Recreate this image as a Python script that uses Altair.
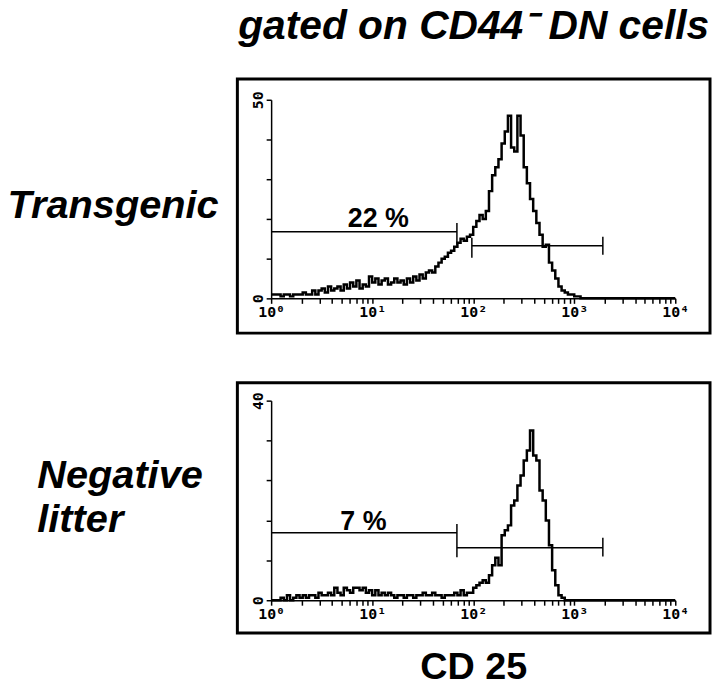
import altair as alt
import pandas as pd

# ---- data (128 log-spaced channels over 10^0..10^4) ----
top_counts = [1, 1, 1, 0.5, 1, 1, 0.5, 1, 1, 1,
              1.5, 1, 1, 2, 1, 2, 2.5, 1.5, 3, 2,
              2.5, 3, 2, 3.5, 2.5, 4, 3, 4.5, 2.5, 3.5,
              3, 5.5, 4, 5, 3.5, 4.5, 5, 3.5, 4, 5,
              4, 4.5, 3.5, 5, 4, 5.5, 4.5, 6, 5, 6.5,
              7, 6.5, 8, 9, 10, 10.5, 11.5, 12, 13, 14,
              15, 14.5, 15.5, 16, 18, 19.5, 21, 20, 22, 27,
              31, 33, 35, 39, 42, 46, 38, 37, 46, 41,
              33, 29, 25, 22, 19, 16, 13, 13.5, 9, 7,
              5, 3, 2, 1.5, 1, 1, 0.5, 0.5] + [0] * 30

bot_counts = [0, 0, 0, 0.5, 0, 1, 0, 0.5, 1, 0.5,
              1, 0.5, 1, 1, 0.5, 1.5, 1, 1, 1.5, 1,
              2.5, 1.5, 1, 2.5, 2, 1.5, 2.5, 2.5, 2, 2.5,
              1.5, 2, 1, 2, 1, 1.5, 1, 1.5, 1, 0.5,
              1, 1, 0.5, 1, 1, 0.5, 1, 1, 1.5, 1,
              1, 1.5, 1, 1, 0.5, 1, 1, 1, 1.5, 1,
              2, 1, 1.5, 1.5, 2.5, 3, 3.5, 4, 3.5, 5,
              7, 8.5, 7, 13, 14, 15, 19, 20, 23, 25,
              28, 30, 34, 29, 28, 22, 20, 16, 11, 6,
              3, 1, 0.5] + [0] * 35

# gates (marker bars)
top_gate_x1 = [1, 97]
top_gate_x2 = [69, 1920]
top_gate_y = [16.75, 13.25]
top_tick_x = [69, 97, 1920]
top_tick_y1 = [13.5, 10.25, 11]
top_tick_y2 = [19, 15.25, 15.5]

bot_gate_x1 = [1, 69]
bot_gate_x2 = [69, 1920]
bot_gate_y = [13.5, 10.5]
bot_tick_x = [69, 1920]
bot_tick_y1 = [8.6, 8.75]
bot_tick_y2 = [15.3, 12.5]

top_label = {"x": [11.5], "c": [17.9], "t": ["22 %"]}
bot_label = {"x": [8.2], "c": [14.1], "t": ["7 %"]}

x_tick_values = [m * 10 ** d for d in range(4) for m in range(1, 10)] + [10000]
decade_sup = ("datum.value == 1 ? '10⁰' : datum.value == 10 ? '10¹' : datum.value == 100 ? '10²'"
              " : datum.value == 1000 ? '10³' : datum.value == 10000 ? '10⁴' : ''")

BOLD = "Liberation Sans"
MONO = "DejaVu Sans Mono"


def panel(counts, ymax, ystep, yrange, height, gx1, gx2, gy, tx, ty1, ty2, lab,
          row_title, title_x, title_y, x_title):
    n = len(counts)
    xs = [10 ** (i / 32) for i in range(n)] + [10000]
    hist = pd.DataFrame({"x": xs, "c": list(counts) + [0]})
    xscale = alt.Scale(type="log", domain=[1, 10000], range=[34, 441])
    yscale = alt.Scale(domain=[0, ymax], range=yrange, nice=False)

    xaxis_kw = dict(values=x_tick_values, labelExpr=decade_sup, offset=-(height - yrange[0]),
                    tickSize=5, tickWidth=1.5, domainWidth=1.5, domainColor="black",
                    tickColor="black", labelColor="black", labelFont=MONO, labelFontSize=15,
                    labelFontWeight="bold", labelPadding=1, labelFlush=False,
                    labelOverlap=False, grid=False)
    if x_title:
        xaxis_kw.update(title=x_title, titleFont=BOLD, titleFontSize=38, titleFontWeight="bold",
                        titleColor="black", titleY=79, titleBaseline="alphabetic")
    else:
        xaxis_kw.update(title="")
    yvals = list(range(0, ymax + 1, ystep))
    yaxis = alt.Axis(values=yvals,
                     labelExpr=f"datum.value == 0 || datum.value == {ymax} ? datum.label : ''",
                     labelAngle=270, labelAlign="center", labelBaseline="bottom",
                     offset=-34, tickSize=5, tickWidth=1.5, domainWidth=1.5,
                     domainColor="black", tickColor="black", labelColor="black",
                     labelFont=MONO, labelFontSize=15, labelFontWeight="bold",
                     labelPadding=1, labelFlush=False,
                     labelOverlap=False, grid=False,
                     title=row_title, titleAngle=0, titleAlign="left",
                     titleBaseline="alphabetic", titleX=title_x, titleY=title_y,
                     titleFont=BOLD, titleFontSize=40, titleFontStyle="italic",
                     titleFontWeight="bold", titleColor="black", titleLineHeight=45)

    line = alt.Chart(hist).mark_line(interpolate="step-after", color="black",
                                     strokeWidth=2.5).encode(
        x=alt.X("x:Q", scale=xscale, axis=alt.Axis(**xaxis_kw)),
        y=alt.Y("c:Q", scale=yscale, axis=yaxis),
    )
    gates = alt.Chart(pd.DataFrame({"x": gx1, "x2": gx2, "c": gy})).mark_rule(
        color="black", strokeWidth=1.5).encode(
        x="x:Q", x2="x2:Q", y="c:Q")
    ticks = alt.Chart(pd.DataFrame({"x": tx, "c": ty1, "c2": ty2})).mark_rule(
        color="black", strokeWidth=1.5).encode(
        x="x:Q", y="c:Q", y2="c2:Q")
    text = alt.Chart(pd.DataFrame(lab)).mark_text(
        font=BOLD, fontWeight="bold", fontSize=27, align="center",
        baseline="alphabetic", color="black").encode(
        x="x:Q", y="c:Q", text="t:N")
    return alt.layer(line, gates, ticks, text).properties(width=476, height=height)


top = panel(top_counts, 50, 5, [221, 21], 256, top_gate_x1, top_gate_x2, top_gate_y,
            top_tick_x, top_tick_y1, top_tick_y2, top_label,
            "Transgenic", -266, 140, None).properties(
    title=alt.Title("gated on CD44⁻ DN cells", font=BOLD, fontSize=41, fontStyle="italic",
                    fontWeight="bold", color="black", anchor="middle", frame="group",
                    offset=31))

bottom = panel(bot_counts, 40, 4, [219, 18], 252, bot_gate_x1, bot_gate_x2, bot_gate_y,
               bot_tick_x, bot_tick_y1, bot_tick_y2, bot_label,
               ["Negative", "litter"], -236, 105, "CD 25")

chart = alt.vconcat(top, bottom, spacing=46).configure_view(
    stroke="black", strokeWidth=3).properties(
    padding={"left": -3, "top": -6, "right": 0, "bottom": 0}, background="white")

chart.save("out.html", embed_options={"renderer": "svg", "actions": False})
